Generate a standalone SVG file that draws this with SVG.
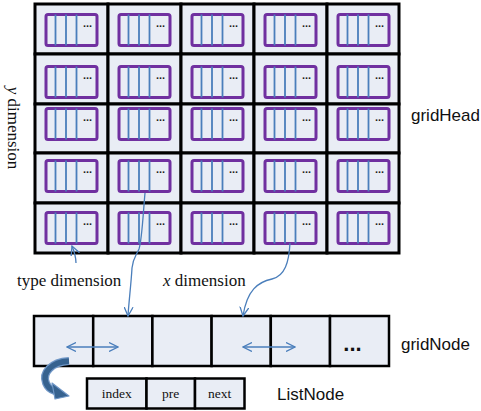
<svg xmlns="http://www.w3.org/2000/svg" xmlns:xlink="http://www.w3.org/1999/xlink" width="481" height="411" viewBox="0 0 481 411">
  <style>
    .cell { fill: #E9EDF5; stroke: #000; stroke-width: 3; }
    .node { fill: #E9EDF5; stroke: #000; stroke-width: 2.5; }
    .slot { fill: none; stroke: #7030A0; stroke-width: 3; }
    .bar { stroke: #4A7EBB; stroke-width: 1.8; }
    .dots { font-family: "Liberation Sans", Arial, sans-serif; font-size: 11px; font-weight: bold; fill: #222; }
    .sans { font-family: "Liberation Sans", Arial, sans-serif; font-size: 17px; fill: #111; }
    .serif { font-family: "Liberation Serif", "Times New Roman", serif; font-size: 17px; fill: #111; }
    .field { font-family: "Liberation Serif", "Times New Roman", serif; font-size: 13.5px; fill: #111; }
    .link { fill: none; stroke: #4A7EBB; stroke-width: 1.3; }
  </style>
  <defs>
    <!-- one type-slot block: purple frame, three bars and an ellipsis -->
    <g id="slot">
      <rect class="slot" x="1.5" y="1.5" width="51" height="31" rx="2"/>
      <line class="bar" x1="11" y1="1.5" x2="11" y2="32.5"/>
      <line class="bar" x1="21.5" y1="1.5" x2="21.5" y2="32.5"/>
      <line class="bar" x1="32" y1="1.5" x2="32" y2="32.5"/>
      <text class="dots" x="38.5" y="14">...</text>
    </g>
    <marker id="open" viewBox="0 0 10 10" refX="9" refY="5" markerWidth="10" markerHeight="10" markerUnits="userSpaceOnUse" orient="auto-start-reverse">
      <path d="M0,0.5 L9,5 L0,9.5" fill="none" stroke="#4A7EBB" stroke-width="1.3"/>
    </marker>
  </defs>

  <rect width="481" height="411" fill="#fff"/>

  <!-- gridHead: 5 x 5 cells -->
  <g id="gridHead">
    <g id="row1">
      <rect class="cell" x="35" y="4" width="73" height="50"/>
      <rect class="cell" x="108" y="4" width="73" height="50"/>
      <rect class="cell" x="181" y="4" width="73" height="50"/>
      <rect class="cell" x="254" y="4" width="73" height="50"/>
      <rect class="cell" x="327" y="4" width="72" height="50"/>
      <use xlink:href="#slot" x="44.5" y="13"/>
      <use xlink:href="#slot" x="117.5" y="13"/>
      <use xlink:href="#slot" x="190.5" y="13"/>
      <use xlink:href="#slot" x="263.5" y="13"/>
      <use xlink:href="#slot" x="336.5" y="13"/>
    </g>
    <g id="row2">
      <rect class="cell" x="35" y="54" width="73" height="50"/>
      <rect class="cell" x="108" y="54" width="73" height="50"/>
      <rect class="cell" x="181" y="54" width="73" height="50"/>
      <rect class="cell" x="254" y="54" width="73" height="50"/>
      <rect class="cell" x="327" y="54" width="72" height="50"/>
      <use xlink:href="#slot" x="44.5" y="65"/>
      <use xlink:href="#slot" x="117.5" y="65"/>
      <use xlink:href="#slot" x="190.5" y="65"/>
      <use xlink:href="#slot" x="263.5" y="65"/>
      <use xlink:href="#slot" x="336.5" y="65"/>
    </g>
    <g id="row3">
      <rect class="cell" x="35" y="104" width="73" height="49"/>
      <rect class="cell" x="108" y="104" width="73" height="49"/>
      <rect class="cell" x="181" y="104" width="73" height="49"/>
      <rect class="cell" x="254" y="104" width="73" height="49"/>
      <rect class="cell" x="327" y="104" width="72" height="49"/>
      <use xlink:href="#slot" x="44.5" y="107"/>
      <use xlink:href="#slot" x="117.5" y="107"/>
      <use xlink:href="#slot" x="190.5" y="107"/>
      <use xlink:href="#slot" x="263.5" y="107"/>
      <use xlink:href="#slot" x="336.5" y="107"/>
    </g>
    <g id="row4">
      <rect class="cell" x="35" y="153" width="73" height="50"/>
      <rect class="cell" x="108" y="153" width="73" height="50"/>
      <rect class="cell" x="181" y="153" width="73" height="50"/>
      <rect class="cell" x="254" y="153" width="73" height="50"/>
      <rect class="cell" x="327" y="153" width="72" height="50"/>
      <use xlink:href="#slot" x="44.5" y="159"/>
      <use xlink:href="#slot" x="117.5" y="159"/>
      <use xlink:href="#slot" x="190.5" y="159"/>
      <use xlink:href="#slot" x="263.5" y="159"/>
      <use xlink:href="#slot" x="336.5" y="159"/>
    </g>
    <g id="row5">
      <rect class="cell" x="35" y="203" width="73" height="50"/>
      <rect class="cell" x="108" y="203" width="73" height="50"/>
      <rect class="cell" x="181" y="203" width="73" height="50"/>
      <rect class="cell" x="254" y="203" width="73" height="50"/>
      <rect class="cell" x="327" y="203" width="72" height="50"/>
      <use xlink:href="#slot" x="44.5" y="211"/>
      <use xlink:href="#slot" x="117.5" y="211"/>
      <use xlink:href="#slot" x="190.5" y="211"/>
      <use xlink:href="#slot" x="263.5" y="211"/>
      <use xlink:href="#slot" x="336.5" y="211"/>
    </g>
  </g>

  <!-- gridNode: row of six cells -->
  <g id="gridNode">
    <rect class="node" x="34" y="316" width="59.2" height="50"/>
    <rect class="node" x="93.2" y="316" width="59.2" height="50"/>
    <rect class="node" x="152.4" y="316" width="59.2" height="50"/>
    <rect class="node" x="211.6" y="316" width="59.2" height="50"/>
    <rect class="node" x="270.8" y="316" width="59.2" height="50"/>
    <rect class="node" x="330" y="316" width="59" height="50"/>
    <text x="352.5" y="351" text-anchor="middle" style="font-family:'Liberation Sans',Arial,sans-serif;font-size:22px;font-weight:bold;fill:#111">...</text>
  </g>

  <!-- ListNode: index / pre / next -->
  <g id="listNode">
    <rect class="node" x="87" y="378.5" width="59.5" height="30"/>
    <rect class="node" x="146.5" y="378.5" width="48.5" height="30"/>
    <rect class="node" x="195" y="378.5" width="49.5" height="30"/>
    <text class="field" x="116.7" y="397.5" text-anchor="middle">index</text>
    <text class="field" x="170.7" y="397.5" text-anchor="middle">pre</text>
    <text class="field" x="219.7" y="397.5" text-anchor="middle">next</text>
  </g>

  <!-- labels -->
  <g id="labels">
    <text class="serif" transform="translate(8,128) rotate(90)" text-anchor="middle"><tspan font-style="italic">y</tspan> dimension</text>
    <text class="sans" x="411" y="121">gridHead</text>
    <text class="sans" x="401" y="350">gridNode</text>
    <text class="sans" x="277" y="400">ListNode</text>
    <text class="serif" x="17" y="286">type dimension</text>
    <text class="serif" x="163" y="286"><tspan font-style="italic">x</tspan> dimension</text>
  </g>

  <!-- connectors -->
  <g id="connectors">
    <path class="link" d="M76,263 C76,256 74,251 72,246" marker-end="url(#open)"/>
    <path class="link" d="M145,193 C143,215 142,240 139,249 C136,256 133,258 132,268 C131,285 129,300 128,316" marker-end="url(#open)"/>
    <path class="link" d="M290,243 C289,262 285,276 272,279 C258,282 247,290 243,316" marker-end="url(#open)"/>
    <line class="link" x1="67" y1="347" x2="118" y2="347" marker-start="url(#open)" marker-end="url(#open)"/>
    <line class="link" x1="243" y1="347" x2="295" y2="347" marker-start="url(#open)" marker-end="url(#open)"/>
    <!-- thick curved arrow from gridNode down to ListNode -->
    <g id="turnArrow">
      <path d="M69,361 C51,362 42,373 46,383 C48,388 51,390 55,391" fill="none" stroke="#6F96C6" stroke-width="8" stroke-linecap="butt"/>
      <path d="M69,361 C51,362 42,373 46,383 C48,388 51,390 55,391" fill="none" stroke="#36628F" stroke-width="5.5" stroke-linecap="butt"/>
      <polygon points="52,383 69,396 55,399" fill="#36628F" stroke="#6F96C6" stroke-width="1.2" stroke-linejoin="round"/>
    </g>
  </g>
</svg>
